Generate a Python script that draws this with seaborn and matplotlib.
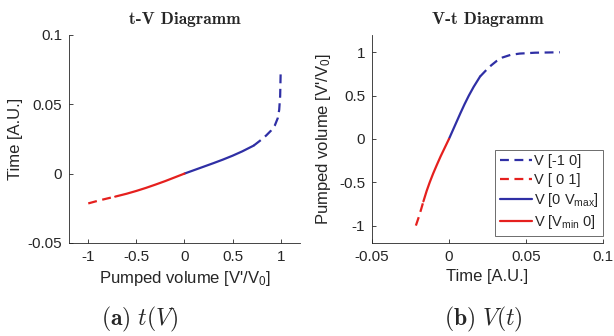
import matplotlib
matplotlib.use("Agg")
import matplotlib.pyplot as plt
import seaborn as sns

# pumped volume V'/V0 and time [A.U.] for each branch of the curve
vol_neg_dash = [-1.0, -0.9, -0.8, -0.72]
time_neg_dash = [-0.0215, -0.0196, -0.0179, -0.0166]

vol_neg_solid = [-0.72, -0.6, -0.5, -0.4, -0.3, -0.2, -0.1, 0.0]
time_neg_solid = [-0.0166, -0.0145, -0.0125, -0.0103, -0.0079, -0.0054, -0.0027, 0.0]

vol_pos_solid = [0.0, 0.1, 0.2, 0.3, 0.4, 0.5, 0.6, 0.72]
time_pos_solid = [0.0, 0.0025, 0.0050, 0.0075, 0.0101, 0.0129, 0.0160, 0.0202]

vol_pos_dash = [0.72, 0.8, 0.85, 0.9, 0.94, 0.97, 0.985, 0.995, 1.0]
time_pos_dash = [0.0202, 0.0245, 0.0275, 0.031, 0.0348, 0.040, 0.046, 0.056, 0.072]

legend_labels = ["V [-1 0]", "V [ 0 1]", r"V [0 V$_{\mathrm{max}}$]", r"V [V$_{\mathrm{min}}$ 0]"]

vol_ticks = [-1, -0.5, 0, 0.5, 1]
vol_ticklabels = ["-1", "-0.5", "0", "0.5", "1"]
time_ticks = [-0.05, 0, 0.05, 0.1]
time_ticklabels = ["-0.05", "0", "0.05", "0.1"]

sns.set_style("ticks")
plt.rcParams["font.family"] = ["Liberation Sans", "DejaVu Sans"]
plt.rcParams["mathtext.fontset"] = "custom"
plt.rcParams["mathtext.rm"] = "Liberation Sans"
plt.rcParams["mathtext.it"] = "Liberation Sans:italic"
plt.rcParams["font.size"] = 11

BLUE = "#2f2fa5"
RED = "#e5201e"
GREY = "#262626"
DASH = (4, 2.5)

fig = plt.figure(figsize=(6.14, 3.36), dpi=100)
ax1 = fig.add_axes([0.1124, 0.277, 0.376, 0.619])
ax2 = fig.add_axes([0.6059, 0.277, 0.376, 0.619])

segments = [
    (vol_pos_dash, time_pos_dash, BLUE, True, legend_labels[0]),
    (vol_neg_dash, time_neg_dash, RED, True, legend_labels[1]),
    (vol_pos_solid, time_pos_solid, BLUE, False, legend_labels[2]),
    (vol_neg_solid, time_neg_solid, RED, False, legend_labels[3]),
]

for vol, tim, col, dashed, lab in segments:
    kw = dict(color=col, lw=1.6, sort=False)
    l1 = sns.lineplot(x=vol, y=tim, ax=ax1, **kw).lines[-1]
    l2 = sns.lineplot(x=tim, y=vol, ax=ax2, label=lab, **kw).lines[-1]
    if dashed:
        l1.set_dashes(DASH)
        l2.set_dashes(DASH)

for ax in (ax1, ax2):
    sns.despine(ax=ax)
    for s in ("left", "bottom"):
        ax.spines[s].set_color(GREY)
        ax.spines[s].set_linewidth(0.6)
    ax.tick_params(direction="in", length=3, width=0.6, colors=GREY, labelsize=11, pad=5)
    ax.xaxis.label.set_color(GREY)
    ax.yaxis.label.set_color(GREY)

ax1.set_xlim(-1.2, 1.2)
ax1.set_ylim(-0.05, 0.1)
ax1.set_xticks(vol_ticks)
ax1.set_xticklabels(vol_ticklabels)
ax1.set_yticks([-0.05, 0, 0.05, 0.1])
ax1.set_yticklabels(["-0.05", "0", "0.05", "0.1"])
ax1.set_xlabel("Pumped volume [V'/V$_0$]", fontsize=12, labelpad=4)
ax1.set_ylabel("Time [A.U.]", fontsize=12, labelpad=3)
ax1.set_title("t-V Diagramm", family=["cmb10", "DejaVu Serif"], fontsize=12.5, pad=8)

ax2.set_xlim(-0.05, 0.1)
ax2.set_ylim(-1.2, 1.2)
ax2.set_xticks(time_ticks)
ax2.set_xticklabels(time_ticklabels)
ax2.set_yticks(vol_ticks)
ax2.set_yticklabels(vol_ticklabels)
ax2.set_xlabel("Time [A.U.]", fontsize=12, labelpad=4)
ax2.set_ylabel("Pumped volume [V'/V$_0$]", fontsize=12, labelpad=4)
ax2.set_title("V-t Diagramm", family=["cmb10", "DejaVu Serif"], fontsize=12.5, pad=8)

leg = ax2.legend(loc="lower right", bbox_to_anchor=(1.0, 0.034), borderaxespad=0,
                 fancybox=False, framealpha=1, edgecolor="#555555", fontsize=10.5,
                 handlelength=2.2, handletextpad=0.15, labelspacing=0.3,
                 borderpad=0.3)
leg.get_frame().set_linewidth(0.6)

fig.text(0.228, 0.032, r"$\mathbf{(a)}\ t(V)$", fontsize=17, ha="center",
         va="baseline", math_fontfamily="cm")
fig.text(0.787, 0.032, r"$\mathbf{(b)}\ V(t)$", fontsize=17, ha="center",
         va="baseline", math_fontfamily="cm")

fig.savefig("out.png", dpi=100)
